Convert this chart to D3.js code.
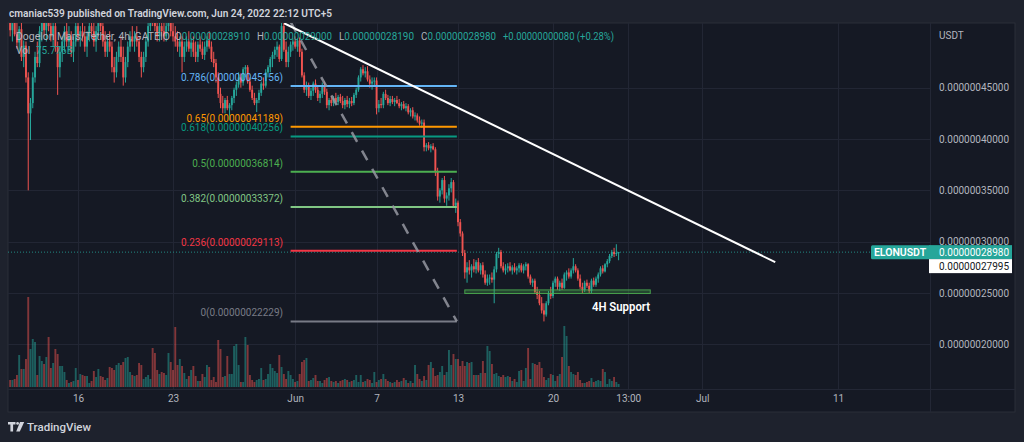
<!DOCTYPE html>
<html><head><meta charset="utf-8">
<script src="https://cdn.jsdelivr.net/npm/d3@7"></script>
<style>
html,body{margin:0;padding:0;background:#1e222d;overflow:hidden;}
svg{display:block;font-family:Roboto,"Liberation Sans",sans-serif;}
</style></head>
<body><svg id="c" width="1024" height="442"></svg>
<script>
// ---- DATA (prices in units of 1e-10 USDT) ----
const firstBar = new Date(2022,4,11,0);   // 4h bars
const ohlc = [
[5150,5300,5000,5060],[5060,5200,4950,5130],[5130,5250,5000,5020],[5020,5150,4880,4940],[4940,5100,4850,5070],
[5070,5150,4760,4800],[4800,4960,4700,4910],[4910,4950,4550,4600],[4600,4650,3500,4250],[4250,4400,3990,4350],
[4350,4650,4300,4600],[4600,4850,4550,4800],[4800,4950,4700,4740],[4740,5100,4700,5050],[5050,5200,4950,5150],
[5150,5260,5000,5060],[5060,5200,4950,5160],[5160,5300,5050,5100],[5100,5200,4950,5000],[5000,5150,4900,5100],
[5100,5150,4850,4900],[4900,4950,4430,4700],[4700,4900,4600,4850],[4850,5000,4750,4950],[4950,5100,4850,5050],
[5050,5150,4900,4950],[4950,5100,4850,5000],[5000,5050,4800,4850],[4850,5000,4750,4950],[4950,5150,4900,5100],
[5100,5200,4950,5000],[5000,5100,4900,5050],[5050,5150,4950,5000],[5000,5100,4850,4900],[4900,5050,4800,5000],
[5000,5150,4950,5100],[5100,5200,5000,5050],[5050,5150,4900,4950],[4950,5100,4850,5050],[5050,5200,5000,5150],
[5150,5250,5050,5100],[5100,5150,4900,4950],[4950,5050,4800,4850],[4850,5000,4800,4950],[4950,5050,4850,4900],
[4900,4950,4650,4700],[4700,4800,4550,4650],[4650,4850,4600,4800],[4800,4950,4750,4900],[4900,5000,4750,4800],
[4800,4900,4520,4600],[4600,4800,4550,4750],[4750,4950,4700,4900],[4900,5050,4850,5000],[5000,5100,4900,4950],
[4950,5050,4850,5000],[5000,5100,4900,4950],[4950,5000,4750,4800],[4800,4850,4600,4700],[4700,4850,4650,4800],
[4800,5000,4750,4950],[4950,5150,4900,5100],[5100,5250,5050,5200],[5200,5300,5100,5150],[5150,5250,5050,5100],
[5100,5200,4950,5000],[5000,5150,4950,5100],[5100,5200,5000,5050],[5050,5150,4950,5000],[5000,5150,4950,5100],
[5100,5250,5050,5150],[5150,5250,5000,5050],[5050,5150,4950,5000],[5000,5100,4900,4950],[4950,5050,4850,4900],
[4900,5000,4800,4950],[4950,5000,4650,4800],[4800,4950,4750,4900],[4900,5000,4850,4950],[4950,5050,4850,4880],
[4880,4980,4800,4940],[4940,5000,4800,4850],[4850,4950,4750,4800],[4800,4950,4750,4920],[4920,5000,4850,4880],
[4880,4950,4780,4820],[4820,4950,4770,4900],[4900,5000,4850,4960],[4960,5050,4880,4900],[4900,4950,4750,4780],
[4780,4850,4700,4740],[4740,4780,4550,4600],[4600,4650,4400,4440],[4440,4500,4300,4350],[4350,4420,4250,4300],
[4300,4400,4250,4380],[4380,4420,4280,4300],[4300,4350,4180,4330],[4330,4420,4280,4400],[4400,4500,4350,4480],
[4480,4560,4420,4530],[4530,4650,4500,4600],[4600,4640,4500,4550],[4550,4700,4520,4680],[4680,4720,4600,4700],
[4700,4720,4540,4560],[4560,4600,4460,4480],[4480,4520,4380,4400],[4400,4450,4330,4350],[4350,4400,4263,4380],
[4380,4480,4350,4450],[4450,4560,4420,4540],[4540,4600,4480,4520],[4520,4680,4500,4650],[4650,4720,4600,4700],
[4700,4800,4650,4780],[4780,4850,4700,4820],[4820,4900,4780,4870],[4870,4950,4800,4900],[4900,4920,4750,4780],
[4780,5140,4760,5100],[5100,5130,4850,4870],[4870,4950,4700,4750],[4750,4900,4700,4850],[4850,4950,4800,4920],
[4920,4980,4860,4950],[4950,5000,4880,4900],[4900,4980,4850,4960],[4960,4990,4800,4850],[4850,4880,4600,4620],
[4620,4650,4450,4480],[4480,4560,4420,4520],[4520,4550,4400,4420],[4420,4500,4380,4470],[4470,4560,4420,4540],
[4540,4580,4450,4480],[4480,4520,4370,4400],[4400,4470,4350,4440],[4440,4550,4400,4520],[4520,4560,4430,4460],
[4460,4490,4300,4330],[4330,4400,4280,4380],[4380,4420,4320,4350],[4350,4420,4320,4400],[4400,4450,4340,4360],
[4360,4430,4330,4410],[4410,4440,4350,4370],[4370,4420,4300,4330],[4330,4400,4290,4380],[4380,4420,4310,4340],
[4340,4400,4300,4370],[4370,4410,4320,4350],[4350,4450,4330,4430],[4430,4500,4400,4480],[4480,4620,4460,4600],
[4600,4700,4560,4680],[4680,4720,4620,4640],[4640,4700,4600,4660],[4660,4710,4560,4580],[4580,4620,4500,4540],
[4540,4600,4480,4560],[4560,4600,4520,4570],[4570,4600,4240,4300],[4300,4380,4260,4340],[4340,4400,4300,4330],
[4330,4460,4300,4440],[4440,4480,4380,4400],[4400,4430,4330,4350],[4350,4420,4320,4390],[4390,4420,4340,4360],
[4360,4400,4320,4380],[4380,4420,4340,4350],[4350,4390,4300,4320],[4320,4360,4280,4340],[4340,4370,4290,4300],
[4300,4350,4270,4320],[4320,4340,4240,4260],[4260,4300,4220,4280],[4280,4310,4200,4220],[4220,4260,4180,4230],
[4230,4250,4160,4180],[4180,4220,4130,4150],[4150,4190,4110,4160],[4160,4190,3880,3920],[3920,3960,3880,3940],
[3940,3970,3890,3910],[3910,3950,3870,3930],[3930,3960,3890,3900],[3900,3920,3640,3680],[3680,3720,3400,3440],
[3440,3520,3380,3500],[3500,3620,3460,3600],[3600,3640,3380,3420],[3420,3480,3350,3450],[3450,3560,3400,3520],
[3520,3620,3480,3580],[3580,3600,3330,3350],[3350,3420,3280,3380],[3380,3400,3150,3190],[3190,3220,3050,3080],
[3080,3100,2860,2890],[2890,2920,2640,2700],[2700,2800,2600,2750],[2750,2820,2680,2720],[2720,2780,2650,2760],
[2760,2830,2700,2730],[2730,2820,2690,2800],[2800,2840,2700,2720],[2720,2790,2680,2770],[2770,2800,2650,2680],
[2680,2720,2580,2600],[2600,2680,2570,2640],[2640,2680,2580,2650],[2650,2700,2600,2630],[2630,2760,2400,2730],
[2730,2900,2700,2880],[2880,2940,2840,2900],[2900,2920,2740,2760],[2760,2800,2700,2720],[2720,2780,2680,2740],
[2740,2790,2700,2760],[2760,2800,2710,2720],[2720,2770,2680,2750],[2750,2790,2700,2720],[2720,2760,2680,2740],
[2740,2790,2700,2770],[2770,2790,2700,2720],[2720,2780,2690,2760],[2760,2800,2720,2780],[2780,2790,2640,2660],
[2660,2680,2580,2600],[2600,2640,2560,2620],[2620,2640,2490,2510],[2510,2560,2440,2480],[2480,2520,2380,2400],
[2400,2460,2300,2330],[2330,2400,2223,2290],[2290,2420,2270,2400],[2400,2520,2380,2500],[2500,2560,2440,2470],
[2470,2620,2450,2600],[2600,2660,2560,2640],[2640,2660,2530,2560],[2560,2620,2520,2600],[2600,2640,2530,2550],
[2550,2700,2540,2680],[2680,2720,2620,2700],[2700,2740,2640,2660],[2660,2740,2640,2720],[2720,2840,2690,2760],
[2760,2780,2700,2720],[2720,2740,2620,2640],[2640,2680,2540,2560],[2560,2600,2500,2530],[2530,2620,2510,2600],
[2600,2630,2550,2570],[2570,2600,2500,2520],[2520,2640,2500,2620],[2620,2650,2560,2580],[2580,2660,2560,2640],
[2640,2700,2600,2680],[2680,2760,2660,2740],[2740,2770,2690,2710],[2710,2790,2700,2780],[2780,2830,2750,2810],
[2810,2880,2790,2860],[2860,2920,2840,2900],[2900,2940,2850,2880],[2880,2975,2860,2890],[2891,2900,2819,2898]
];
const volume = [
7,7,8,12,32,18,18,28,90,38, 48,45,12,31,26,23,30,50,19,24, 38,33,21,21,15,7,4,5,6,
19,7,13,12,11,11,4,6,16,10, 18,11,10,7,9,20,19,17,22,24, 22,25,29,30,15,12,11,12,24,22,
8,10,12,8,39,34,17,13,15,14, 12,34,25,17,60,22,28,21,14,8, 11,17,21,11,6,6,13,10,22,20,
7,10,5,47,38,10,11,31,13,13, 41,43,22,5,5,50,42,12,7,5, 7,8,19,7,8,13,23,19,16,14,
32,20,13,8,16,12,8,5,6,13, 25,27,29,6,7,9,12,6,6,4, 7,9,10,
6,5,6,4,6,7,8,7,5, 6,7,12,5,12,5,6,8,7, 4,15,5,7,8,13,8,6,5, 4,5,7,5,6,9,7,4,6,
4,22,13,8,6,11,7,22,25, 19,11,12,15,21,12,15,37,22,33, 28,28,21,26,21,25,24,25,12,12,
12,14,26,14,41,36,23,13,14,11, 10,12,10,11,10,6,8,5,16, 17,6,19,39,8,24,23,22,25,19,
10,7,9,13,12,6,11,13,30, 61,51,21,15,13,12,15,7,4,4, 5,6,9,5,6,7,6,18,15,3,
8,6,10,5,3
];
const priceTicks = [2000,2500,3000,3500,4000,4500];
const timeTickDates = [new Date(2022,4,16),new Date(2022,4,23),new Date(2022,5,1),new Date(2022,5,7),
  new Date(2022,5,13),new Date(2022,5,20),new Date(2022,5,25,13),new Date(2022,6,1),new Date(2022,6,11)];
const timeTickLabels = ["16","23","Jun","7","13","20","13:00","Jul","11"];
const fibLevels = ["0.786","0.65","0.618","0.5","0.382","0.236","0"];
const fibPrices = [4515.6,4118.9,4025.6,3681.4,3337.2,2911.3,2222.9];
const fibColors = ["#64b5f6","#ff9800","#089981","#4caf50","#81c784","#f23645","#787b86"];
const fibRange = [new Date(2022,4,31,16), new Date(2022,5,12,22)];
const fibTop = 5140;
const trendTimes = [new Date(2022,4,31,4,30), new Date(2022,6,6,9)];
const trendPrices = [5128, 2800];
const supportTimes = [new Date(2022,5,13,12), new Date(2022,5,27,4)];
const supportPrices = [2495, 2530];
const symbolName = "ELONUSDT";
const secondLabel = 2799.5;
const volText = "75.776B";
const titleText = "Dogelon Mars/Tether, 4h, GATEIO";
const headerText = "cmaniac539 published on TradingView.com, Jun 24, 2022 22:12 UTC+5";

// ---- LAYOUT ----
const svg = d3.select("#c");
const PL=8, PR=930, PT=23, PB=389, FR=1015, FB=412;
const UP="#26a69a", DN="#ef5350";
const fmt = v => (v*1e-10).toFixed(11);

const x = d3.scaleTime().domain([new Date(2022,4,16), new Date(2022,6,11)]).range([78,838]);
const y = d3.scaleLinear().domain([2000,4500]).range([344.3,87.7]);
const yv = d3.scaleLinear().domain([0,100]).range([387,287]);
const times = ohlc.map((d,i)=>d3.timeHour.offset(firstBar, 4*i));

svg.append("rect").attr("width",1024).attr("height",442).attr("fill","#1e222d");
svg.append("rect").attr("x",PL).attr("y",PT).attr("width",FR-PL).attr("height",FB-PT)
  .attr("fill","#151924").attr("stroke","#2a2e39").attr("stroke-width",1);

const defs = svg.append("defs");
defs.append("clipPath").attr("id","pane").append("rect")
  .attr("x",PL).attr("y",PT).attr("width",PR-PL).attr("height",PB-PT);

// grid
const grid = svg.append("g").attr("stroke","#222634").attr("stroke-width",1);
grid.selectAll("line.h").data(priceTicks).join("line")
  .attr("x1",PL).attr("x2",PR).attr("y1",d=>Math.round(y(d))+0.5).attr("y2",d=>Math.round(y(d))+0.5);
grid.selectAll("line.v").data(timeTickDates).join("line")
  .attr("y1",PT).attr("y2",PB).attr("x1",d=>Math.round(x(d))+0.5).attr("x2",d=>Math.round(x(d))+0.5);
svg.append("line").attr("x1",PR+0.5).attr("x2",PR+0.5).attr("y1",PT).attr("y2",FB).attr("stroke","#232735");
svg.append("line").attr("x1",PL).attr("x2",FR).attr("y1",PB+0.5).attr("y2",PB+0.5).attr("stroke","#232735");

const plot = svg.append("g").attr("clip-path","url(#pane)");
const last = ohlc[ohlc.length-1];

// last price line (under drawings)
plot.append("line").attr("x1",PL).attr("x2",PR).attr("y1",y(last[3])).attr("y2",y(last[3]))
  .attr("stroke",UP).attr("stroke-opacity",0.8).attr("stroke-width",1).attr("stroke-dasharray","1,2");

// volume
plot.append("g").selectAll("rect").data(volume).join("rect")
  .attr("x",(d,i)=>x(times[i])-0.95).attr("width",1.9)
  .attr("y",d=>yv(d)).attr("height",d=>yv(0)-yv(d))
  .attr("fill",(d,i)=>ohlc[i][3]>=ohlc[i][0]?UP:DN).attr("fill-opacity",0.5);

// candles
const cg = plot.append("g");
cg.selectAll("line").data(ohlc).join("line")
  .attr("x1",(d,i)=>x(times[i])).attr("x2",(d,i)=>x(times[i]))
  .attr("y1",d=>y(d[1])).attr("y2",d=>y(d[2]))
  .attr("stroke",d=>d[3]>=d[0]?UP:DN).attr("stroke-width",1);
cg.selectAll("rect").data(ohlc).join("rect")
  .attr("x",(d,i)=>x(times[i])-0.95).attr("width",1.9)
  .attr("y",d=>y(Math.max(d[0],d[3])))
  .attr("height",d=>Math.max(1,Math.abs(y(d[0])-y(d[3]))))
  .attr("fill",d=>d[3]>=d[0]?UP:DN);

// fib lines
plot.append("g").selectAll("line").data(fibPrices).join("line")
  .attr("x1",x(fibRange[0])).attr("x2",x(fibRange[1]))
  .attr("y1",d=>y(d)).attr("y2",d=>y(d))
  .attr("stroke",(d,i)=>fibColors[i]).attr("stroke-width",2);
// fib labels
svg.append("g").selectAll("text").data(fibPrices).join("text")
  .attr("x",283).attr("y",d=>y(d)-5).attr("text-anchor","end")
  .attr("font-size",10).attr("fill",(d,i)=>fibColors[i])
  .text((d,i)=>fibLevels[i]+"("+fmt(d)+")");
// fib diagonal
plot.append("line")
  .attr("x1",x(fibRange[0])).attr("y1",y(fibTop)).attr("x2",x(fibRange[1])).attr("y2",y(fibPrices[6]))
  .attr("stroke","#9598a1").attr("stroke-opacity",0.85).attr("stroke-width",2.5).attr("stroke-dasharray","11,10");

// trend line
plot.append("line")
  .attr("x1",x(trendTimes[0])).attr("y1",y(trendPrices[0])).attr("x2",x(trendTimes[1])).attr("y2",y(trendPrices[1]))
  .attr("stroke","#ffffff").attr("stroke-width",2);

// support zone
plot.append("rect")
  .attr("x",x(supportTimes[0])).attr("width",x(supportTimes[1])-x(supportTimes[0]))
  .attr("y",y(supportPrices[1])).attr("height",y(supportPrices[0])-y(supportPrices[1]))
  .attr("fill","#4caf50").attr("fill-opacity",0.3).attr("stroke","#4caf50").attr("stroke-opacity",0.85);
svg.append("text").attr("x",592).attr("y",310.5).attr("font-size",12).attr("font-weight",600)
  .attr("fill","#ffffff").attr("textLength",58).attr("lengthAdjust","spacingAndGlyphs").text("4H Support");

// price axis
const pa = svg.append("g").attr("transform","translate(939,0)")
  .call(d3.axisRight(y).tickValues(priceTicks).tickFormat(fmt).tickSize(0).tickPadding(0));
pa.select(".domain").remove();
pa.selectAll("text").attr("fill","#b2b5be").attr("font-size",10).attr("font-family","Roboto");
svg.append("text").attr("x",939).attr("y",38.5).attr("font-size",10).attr("fill","#b2b5be").text("USDT");

// time axis
const ta = svg.append("g").attr("transform","translate(0,395)")
  .call(d3.axisBottom(x).tickValues(timeTickDates).tickFormat((d,i)=>timeTickLabels[i]).tickSize(0).tickPadding(0));
ta.select(".domain").remove();
ta.selectAll("text").attr("fill","#b2b5be").attr("font-size",10).attr("font-family","Roboto");

// price labels
const yl = y(last[3]);
svg.append("rect").attr("x",871).attr("y",yl-7).attr("width",60).attr("height",14).attr("rx",1.5).attr("fill",UP);
svg.append("text").attr("x",900).attr("y",yl+3.8).attr("text-anchor","middle").attr("font-size",10.5)
  .attr("font-weight",600).attr("fill","#ffffff").text(symbolName);
svg.append("rect").attr("x",929).attr("y",yl-7).attr("width",83).attr("height",14).attr("fill",UP);
svg.append("text").attr("x",939).attr("y",yl+3.6).attr("font-size",10).attr("fill","#ffffff").text(fmt(last[3]));
svg.append("rect").attr("x",929).attr("y",yl+7).attr("width",83).attr("height",14).attr("fill","#ffffff");
svg.append("text").attr("x",939).attr("y",yl+17.6).attr("font-size",10).attr("fill","#131722").text(fmt(secondLabel));

// header
svg.append("text").attr("x",9).attr("y",17).attr("font-size",11).attr("font-weight",600)
  .attr("fill","#d1d4dc").attr("textLength",323).attr("lengthAdjust","spacingAndGlyphs").text(headerText);

// legend
const prev = ohlc[ohlc.length-2];
const chg = last[3]-prev[3];
const leg = svg.append("g").attr("font-size",10);
leg.append("text").attr("x",16).attr("y",39.5).attr("fill","#b2b5be").attr("textLength",154)
  .attr("lengthAdjust","spacingAndGlyphs").text(titleText);
const keys = ["O","H","L","C"], kx = [175,257,339,421];
keys.forEach((k,j)=>{
  const t = leg.append("text").attr("x",kx[j]).attr("y",39.5).attr("textLength",75).attr("lengthAdjust","spacingAndGlyphs");
  t.append("tspan").attr("fill","#b2b5be").text(k);
  t.append("tspan").attr("fill",UP).text(fmt(last[j]));
});
leg.append("text").attr("x",503).attr("y",39.5).attr("fill",UP).attr("textLength",111)
  .attr("lengthAdjust","spacingAndGlyphs")
  .text("+"+fmt(chg)+" (+"+(chg/prev[3]*100).toFixed(2)+"%)");
leg.append("text").attr("x",16).attr("y",54).attr("fill","#b2b5be").text("Vol");
leg.append("text").attr("x",36).attr("y",54).attr("fill",UP).text(volText);

// footer logo
const lg = svg.append("g").attr("fill","#d1d4dc");
lg.append("path").attr("d","M8,422 h7.5 v2.6 h-2.4 v6.9 h-2.7 v-6.9 h-2.4 z");
lg.append("circle").attr("cx",17.6).attr("cy",423.4).attr("r",1.4);
lg.append("path").attr("d","M20,422 h4.2 l-4.4,9.5 h-3.6 z");
lg.append("text").attr("x",27).attr("y",431).attr("font-size",11.5).attr("font-weight",500).text("TradingView");
</script>
</body></html>
